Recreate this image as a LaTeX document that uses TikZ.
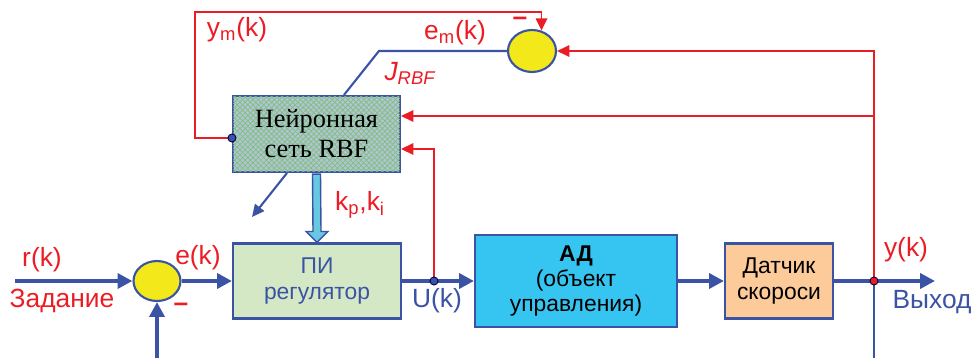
\documentclass[tikz,border=0pt]{standalone}
\usepackage{fontspec}
\setmainfont{Liberation Sans}
\newfontfamily\rbffont{Liberation Serif}
\usetikzlibrary{arrows.meta,patterns,shapes.geometric,calc}
\definecolor{lred}{HTML}{EC1C24}
\definecolor{lblue}{HTML}{3A53A4}
\definecolor{sumyellow}{HTML}{F2E81A}
\definecolor{rbfgray}{HTML}{B4C2D6}
\definecolor{rbfgreen}{HTML}{7CC27A}
\definecolor{pigreen}{HTML}{D5E8C6}
\definecolor{adblue}{HTML}{36C5F1}
\definecolor{peach}{HTML}{FCCB99}
\definecolor{kpblue}{HTML}{68C8E2}
\begin{document}
\begin{tikzpicture}[x=0.02cm,y=-0.02cm,
  box/.style={draw=lblue, line width=1.2pt, inner sep=2pt, align=center, font=\fontsize{13}{14.5}\selectfont},
  summer/.style={ellipse, draw=lblue, line width=1.2pt, fill=sumyellow, inner sep=0pt},
  sig/.style={draw=lblue, line width=2.4pt, -{Triangle[length=8.5pt,width=8.5pt]}},
  fb/.style={draw=lred, line width=1.1pt, -{Triangle[length=7pt,width=6.5pt]}},
  thin/.style={draw=lblue, line width=1.2pt},
  lbl/.style={font=\fontsize{15}{17}\selectfont, inner sep=0pt},
  dot/.style={draw=black!70!blue, line width=0.5pt}]
\useasboundingbox (0,0) rectangle (976,358);
\node[box, fill=rbfgray, font=\rbffont\fontsize{15}{17}\selectfont, minimum width=3.34cm, minimum height=1.52cm,
  preaction={fill=rbfgray}, postaction={pattern=crosshatch, pattern color=rbfgreen}] (rbf) at (316.5,134) {Нейронная\\сеть RBF};
\node[box, fill=pigreen, text=lblue, minimum width=3.36cm, minimum height=1.5cm] (pi) at (317,281) {ПИ\\регулятор};
\node[box, fill=adblue, minimum width=4.04cm, minimum height=1.84cm] (ad) at (576,281) {\textbf{АД}\\(объект\\управления)};
\node[box, fill=peach, minimum width=2.16cm, minimum height=1.5cm] (dat) at (779,281) {Датчик\\скороси};
\node[summer, minimum width=0.96cm, minimum height=0.84cm] (s1) at (532,51) {};
\node[summer, minimum width=0.94cm, minimum height=0.8cm] (s2) at (157,281) {};
\coordinate (in) at (15,281);
\coordinate (ukdot) at (434,281);
\coordinate (ydot) at (874,281);
\coordinate (out) at (935,281);
\coordinate (bot2) at (157,358);
\coordinate (bot) at (874,358);
\coordinate (ymdot) at ($(rbf.west)+(0,4)$);
\coordinate (ymtop) at (195,12);
\coordinate (rbfin1) at ($(rbf.east)+(0,-18)$);
\coordinate (rbfin2) at ($(rbf.east)+(0,15)$);
\coordinate (jbend) at ($(s1.west)+(-128,0)$);
\coordinate (jend) at ($(rbf.north west)+(112,0)$);
\coordinate (tunestart) at ($(rbf.south west)+(55,0)$);
\coordinate (tune) at (252,217);
\draw[sig] (in) -- (s2);
\draw[sig] (bot2) -- (s2);
\draw[sig] (s2) -- (pi);
\draw[sig] (pi) -- (ad);
\draw[sig] (ad) -- (dat);
\draw[sig] (dat) -- (out);
\draw[thin] (ydot) -- (bot);
\draw[thin] (s1.west) -- (jbend) -- (jend);
\draw[thin, -{Triangle[length=7pt,width=6.5pt]}] (tunestart) -- (tune);
\draw[fb] (ydot) -- (ydot |- s1) -- (s1);
\draw[fb] (ydot |- rbfin1) -- (rbfin1);
\draw[fb] (ukdot) -- (ukdot |- rbfin2) -- (rbfin2);
\draw[fb] (ymdot) -- (ymdot -| ymtop) -- (ymtop) -- (ymtop -| s1.65) -- (s1.65);
\draw[draw=lblue, fill=kpblue, line width=0.8pt] ($(rbf.south)+(-4,1)$) -- ($(pi.north)+(-4,-11)$) -- ++(-7,0)
  -- (pi.north) -- ($(pi.north)+(11,-11)$) -- ++(-7,0) -- ($(rbf.south)+(4,1)$) -- cycle;
\fill[lblue, dot] (ymdot) circle (2.3pt);
\fill[lblue, dot] (ukdot) circle (2.3pt);
\fill[lred, dot] (ydot) circle (2.3pt);
\node[lbl, text=lred] (ymlbl) at (237,30) {y\textsubscript{m}(k)};
\node[lbl, text=lred] (emlbl) at (455,33) {e\textsubscript{m}(k)};
\node[lbl, text=lred] (jlbl) at (410,73) {\textit{J\textsubscript{RBF}}};
\node[lbl, text=lred] (kplbl) at (360,205) {k\textsubscript{p},k\textsubscript{i}};
\node[lbl, text=lred] (rlbl) at (42,260) {r(k)};
\node[lbl, text=lred] (zlbl) at (62,301) {Задание};
\node[lbl, text=lred] (elbl) at (198,258) {e(k)};
\node[lbl, text=lred] (m1) at (520,21) {\textbf{–}};
\node[lbl, text=lred] (m2) at (181,307) {\textbf{–}};
\node[lbl, text=lblue] (ulbl) at (437,301) {U(k)};
\node[lbl, text=lred] (ylbl) at (906,250) {y(k)};
\node[lbl, text=lblue] (outlbl) at (932,302) {Выход};
\end{tikzpicture}
\end{document}
